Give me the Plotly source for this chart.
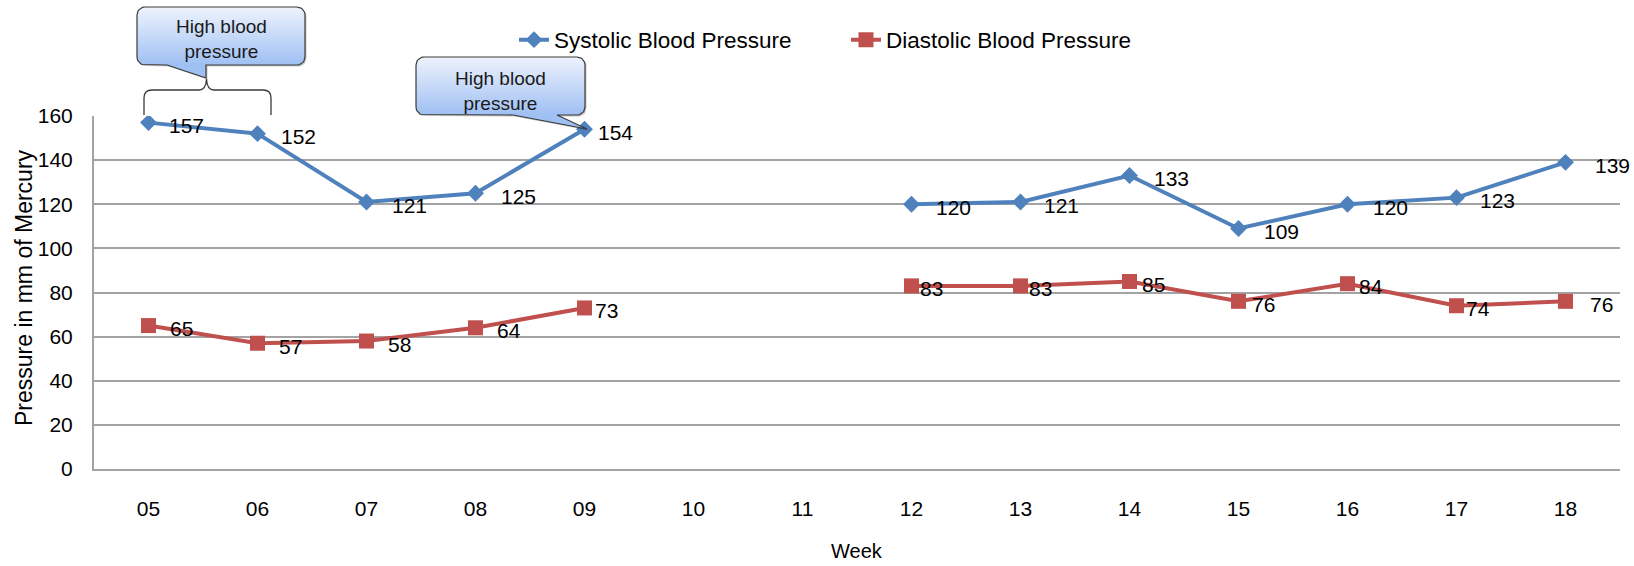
import numpy as np
import plotly.graph_objects as go

# ---- data -------------------------------------------------------------
weeks = ["05", "06", "07", "08", "09", "10", "11", "12", "13", "14", "15", "16", "17", "18"]
systolic = [157, 152, 121, 125, 154, None, None, 120, 121, 133, 109, 120, 123, 139]
diastolic = [65, 57, 58, 64, 73, None, None, 83, 83, 85, 76, 84, 74, 76]

# horizontal offset (px) of each value label from its marker
sys_label_dx = [18, 21, 23, 23, 11, 0, 0, 22, 21, 22, 23, 23, 21, 27]
dia_label_dx = [19, 19, 19, 19, 8, 0, 0, 6, 6, 10, 11, 9, 7, 22]

# ---- styling ----------------------------------------------------------
W, H = 1634, 566
PLOT_L, PLOT_R, PLOT_T, PLOT_B = 94, 1620, 116, 469
FONT = "Liberation Sans, Arial, sans-serif"
BLUE = "#4F81BD"
RED = "#C0504D"
GRID = "#A3A3A3"
OUTLINE = "#3A3A3A"
LABEL_SIZE = 21

fig = go.Figure()

fig.add_trace(go.Scatter(
    x=weeks, y=systolic, name="Systolic Blood Pressure", mode="lines+markers",
    line=dict(color=BLUE, width=4),
    marker=dict(symbol="diamond", size=13, color=BLUE, line=dict(width=0)),
    connectgaps=False, legend="legend", hoverinfo="x+y",
))
fig.add_trace(go.Scatter(
    x=weeks, y=diastolic, name="Diastolic Blood Pressure", mode="lines+markers",
    line=dict(color=RED, width=4),
    marker=dict(symbol="square", size=15, color=RED, line=dict(width=0)),
    connectgaps=False, legend="legend2", hoverinfo="x+y",
))

annotations = []

# value labels to the right of each point (x given as category index)
for values, offsets in ((systolic, sys_label_dx), (diastolic, dia_label_dx)):
    for idx, (v, dx) in enumerate(zip(values, offsets)):
        if v is None:
            continue
        annotations.append(dict(
            x=idx, y=v, xref="x", yref="y", text=str(v), showarrow=False,
            xanchor="left", yanchor="middle", xshift=dx, yshift=-3,
            font=dict(family=FONT, size=LABEL_SIZE, color="#000000"),
        ))


# ---- callouts (drawn on a full-figure pixel overlay axis) -------------
def callout_outline(x0, y0, x1, y1, r, tail):
    """Rounded rectangle whose bottom edge carries a pointer."""
    def arc(cx, cy, a0, a1):
        t = np.linspace(a0, a1, 10)
        return list(zip(cx + r * np.cos(t), cy + r * np.sin(t)))

    bl, br, tx, ty = tail
    pts = []
    pts += arc(x0 + r, y0 + r, np.pi, 1.5 * np.pi)
    pts += arc(x1 - r, y0 + r, 1.5 * np.pi, 2 * np.pi)
    pts += arc(x1 - r, y1 - r, 0, 0.5 * np.pi)
    pts += [(br, y1), (tx, ty), (bl, y1)]
    pts += arc(x0 + r, y1 - r, 0.5 * np.pi, np.pi)
    pts.append(pts[0])
    xs, ys = zip(*pts)
    return list(xs), list(ys)


callouts = [
    # box (x0, y0, x1, y1), pointer (base left, base right, tip x, tip y), text centre y
    dict(box=(137, 7, 305, 65), tail=(167, 206, 206, 78), text_y=39),
    dict(box=(416, 57, 585, 115), tail=(513, 557, 587, 129), text_y=91),
]

for c in callouts:
    x0, y0, x1, y1 = c["box"]
    xs, ys = callout_outline(x0, y0, x1, y1, 8, c["tail"])
    fig.add_trace(go.Scatter(
        x=[v + 1.5 for v in xs], y=[v + 1.5 for v in ys], xaxis="x2", yaxis="y2",
        mode="lines", fill="toself", fillcolor="rgba(0,0,0,0.22)",
        line=dict(width=0), hoverinfo="skip", showlegend=False,
    ))
    fig.add_trace(go.Scatter(
        x=xs, y=ys, xaxis="x2", yaxis="y2", mode="lines", fill="toself",
        fillgradient=dict(type="vertical", start=y0, stop=y1,
                          colorscale=[[0, "#EEF3FD"], [1, "#9FC0F3"]]),
        line=dict(color=OUTLINE, width=1.2), hoverinfo="skip", showlegend=False,
    ))
    annotations.append(dict(
        x=(x0 + x1) / 2, y=c["text_y"], xref="x2", yref="y2",
        text="High blood<br>pressure", showarrow=False,
        xanchor="center", yanchor="middle",
        font=dict(family=FONT, size=19, color="#1A1A1A"),
    ))

# curly brace spanning weeks 05-06
brace_path = ("M 144,115 L 144,98 Q 144,90 152,90 L 199,90 Q 206,90 206.5,79 "
              "Q 207,90 214,90 L 263,90 Q 271,90 271,98 L 271,115")
shapes = [dict(type="path", path=brace_path, xref="x2", yref="y2",
               line=dict(color=OUTLINE, width=1.3), layer="above")]

# axis titles
annotations.append(dict(
    x=24, y=288, xref="x2", yref="y2", text="Pressure in mm of Mercury",
    textangle=-90, showarrow=False, xanchor="center", yanchor="middle",
    font=dict(family=FONT, size=23, color="#000000"),
))
annotations.append(dict(
    x=(PLOT_L + PLOT_R) / 2, y=551, xref="x2", yref="y2", text="Week",
    showarrow=False, xanchor="center", yanchor="middle",
    font=dict(family=FONT, size=20, color="#000000"),
))

legend_style = dict(
    orientation="h", xanchor="left", yanchor="middle", y=1 - 40 / H,
    font=dict(family=FONT, size=22.5, color="#000000"),
    bgcolor="rgba(0,0,0,0)", borderwidth=0,
)

fig.update_layout(
    width=W, height=H, autosize=False,
    margin=dict(l=0, r=0, t=0, b=0, pad=0, autoexpand=False),
    paper_bgcolor="white", plot_bgcolor="rgba(0,0,0,0)",
    font=dict(family=FONT, size=21, color="#000000"),
    xaxis=dict(
        type="category", domain=[PLOT_L / W, PLOT_R / W], anchor="y",
        range=[-0.5, len(weeks) - 0.5], showgrid=False,
        showline=True, linecolor=GRID, linewidth=2,
        ticks="outside", ticklen=0, ticklabelstandoff=20,
        tickfont=dict(family=FONT, size=21, color="#000000"), fixedrange=True,
    ),
    yaxis=dict(
        domain=[1 - PLOT_B / H, 1 - PLOT_T / H], anchor="x",
        range=[0, 160], tick0=0, dtick=20,
        showgrid=True, gridcolor=GRID, gridwidth=2, zeroline=False,
        showline=True, linecolor=GRID, linewidth=2,
        ticks="outside", ticklen=0, ticklabelstandoff=15,
        tickfont=dict(family=FONT, size=21, color="#000000"), fixedrange=True,
    ),
    xaxis2=dict(domain=[0, 1], range=[0, W], anchor="y2", visible=False, fixedrange=True),
    yaxis2=dict(domain=[0, 1], range=[H, 0], anchor="x2", visible=False, fixedrange=True),
    legend=dict(x=514 / W, **legend_style),
    legend2=dict(x=846 / W, **legend_style),
    annotations=annotations,
    shapes=shapes,
    hovermode="closest",
)

fig.write_html("out.html")
